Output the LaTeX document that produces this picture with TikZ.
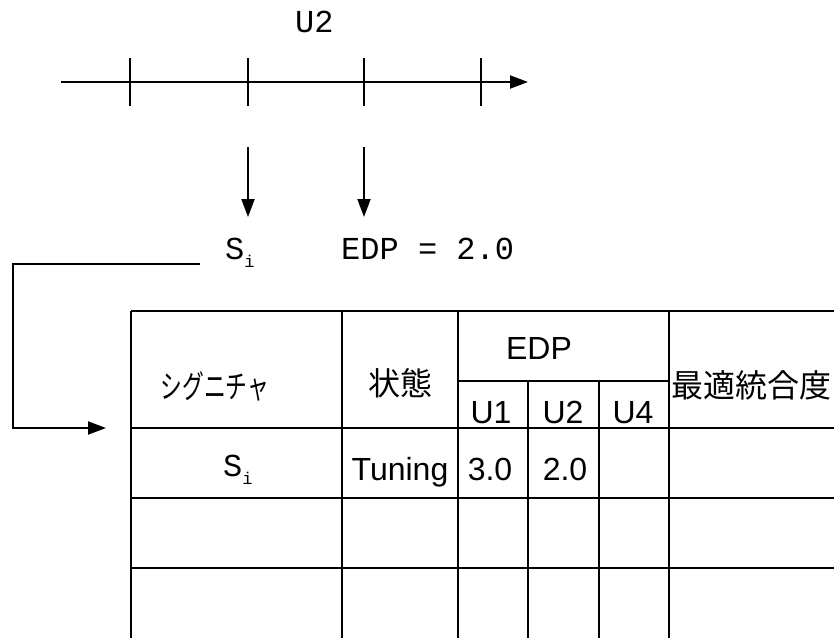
\documentclass[tikz,border=0pt]{standalone}
\usepackage{fontspec}
\setmainfont{Liberation Sans}
\newfontfamily\monofont{Liberation Mono}
\newfontfamily\jpfont{Noto Sans CJK JP}
\usetikzlibrary{arrows.meta}
\tikzset{
  ln/.style={line width=2pt, line cap=butt},
  arr/.style={ln, -{Triangle[length=18pt,width=13pt]}},
  mono/.style={inner sep=0pt, font=\monofont\fontsize{32}{32}\selectfont},
  sans/.style={inner sep=0pt, font=\fontsize{32}{32}\selectfont},
  jp/.style={inner sep=0pt, font=\jpfont\fontsize{32}{32}\selectfont},
}
\newcommand{\subI}{\raisebox{-0.28em}{\fontsize{17}{17}\selectfont i}}
\begin{document}
\begin{tikzpicture}[x=1pt,y=-1pt]
\useasboundingbox (0,0) rectangle (834,637);
\clip (0,0) rectangle (834,637);
% timeline
\node[mono, anchor=base west] (u2) at (295,32) {U2};
\coordinate (t0) at (61,82);
\coordinate (t1) at (528,82);
\draw[arr] (t0) -- (t1);
\foreach \x [count=\i] in {130,247.5,364,481}{
  \coordinate (tk\i a) at (\x,58);
  \coordinate (tk\i b) at (\x,106);
  \draw[ln] (tk\i a) -- (tk\i b);
}
% down arrows
\coordinate (d1s) at (248,147);
\coordinate (d1e) at (248,217);
\coordinate (d2s) at (364,147);
\coordinate (d2e) at (364,217);
\draw[arr] (d1s) -- (d1e);
\draw[arr] (d2s) -- (d2e);
% S_i EDP = 2.0
\node[mono, anchor=base west] (si) at (225,259) {S\subI};
\node[mono, anchor=base west] (edp) at (341,259) {EDP = 2.0};
% connector
\coordinate (c0) at (200,264);
\coordinate (c1) at (13,264);
\coordinate (c2) at (13,428);
\coordinate (c3) at (106,428);
\draw[arr] (c0) -- (c1) -- (c2) -- (c3);
% table grid
\draw[ln] (131,311) -- (860,311);
\draw[ln] (458,381) -- (669,381);
\draw[ln] (131,428) -- (860,428);
\draw[ln] (131,498) -- (860,498);
\draw[ln] (131,568) -- (860,568);
\draw[ln] (131,311) -- (131,660);
\draw[ln] (342,311) -- (342,660);
\draw[ln] (458,311) -- (458,660);
\draw[ln] (669,311) -- (669,660);
\draw[ln] (528,381) -- (528,660);
\draw[ln] (599,381) -- (599,660);
% header texts
\node[jp, xscale=0.68] (sig) at (215,386) {シグニチャ};
\node[jp] (state) at (400,383) {状態};
\node[sans, anchor=base] (edph) at (539,359) {EDP};
\node[sans, anchor=base] (h1) at (491,423) {U1};
\node[sans, anchor=base] (h2) at (563,423) {U2};
\node[sans, anchor=base] (h4) at (633,423) {U4};
\node[jp] (opt) at (751,385) {最適統合度};
% row 1
\node[mono, anchor=base west] (r1a) at (223,476) {S\subI};
\node[sans, anchor=base] (r1b) at (400,480) {Tuning};
\node[sans, anchor=base] (r1c) at (490,480) {3.0};
\node[sans, anchor=base] (r1d) at (565,480) {2.0};
\end{tikzpicture}
\end{document}
